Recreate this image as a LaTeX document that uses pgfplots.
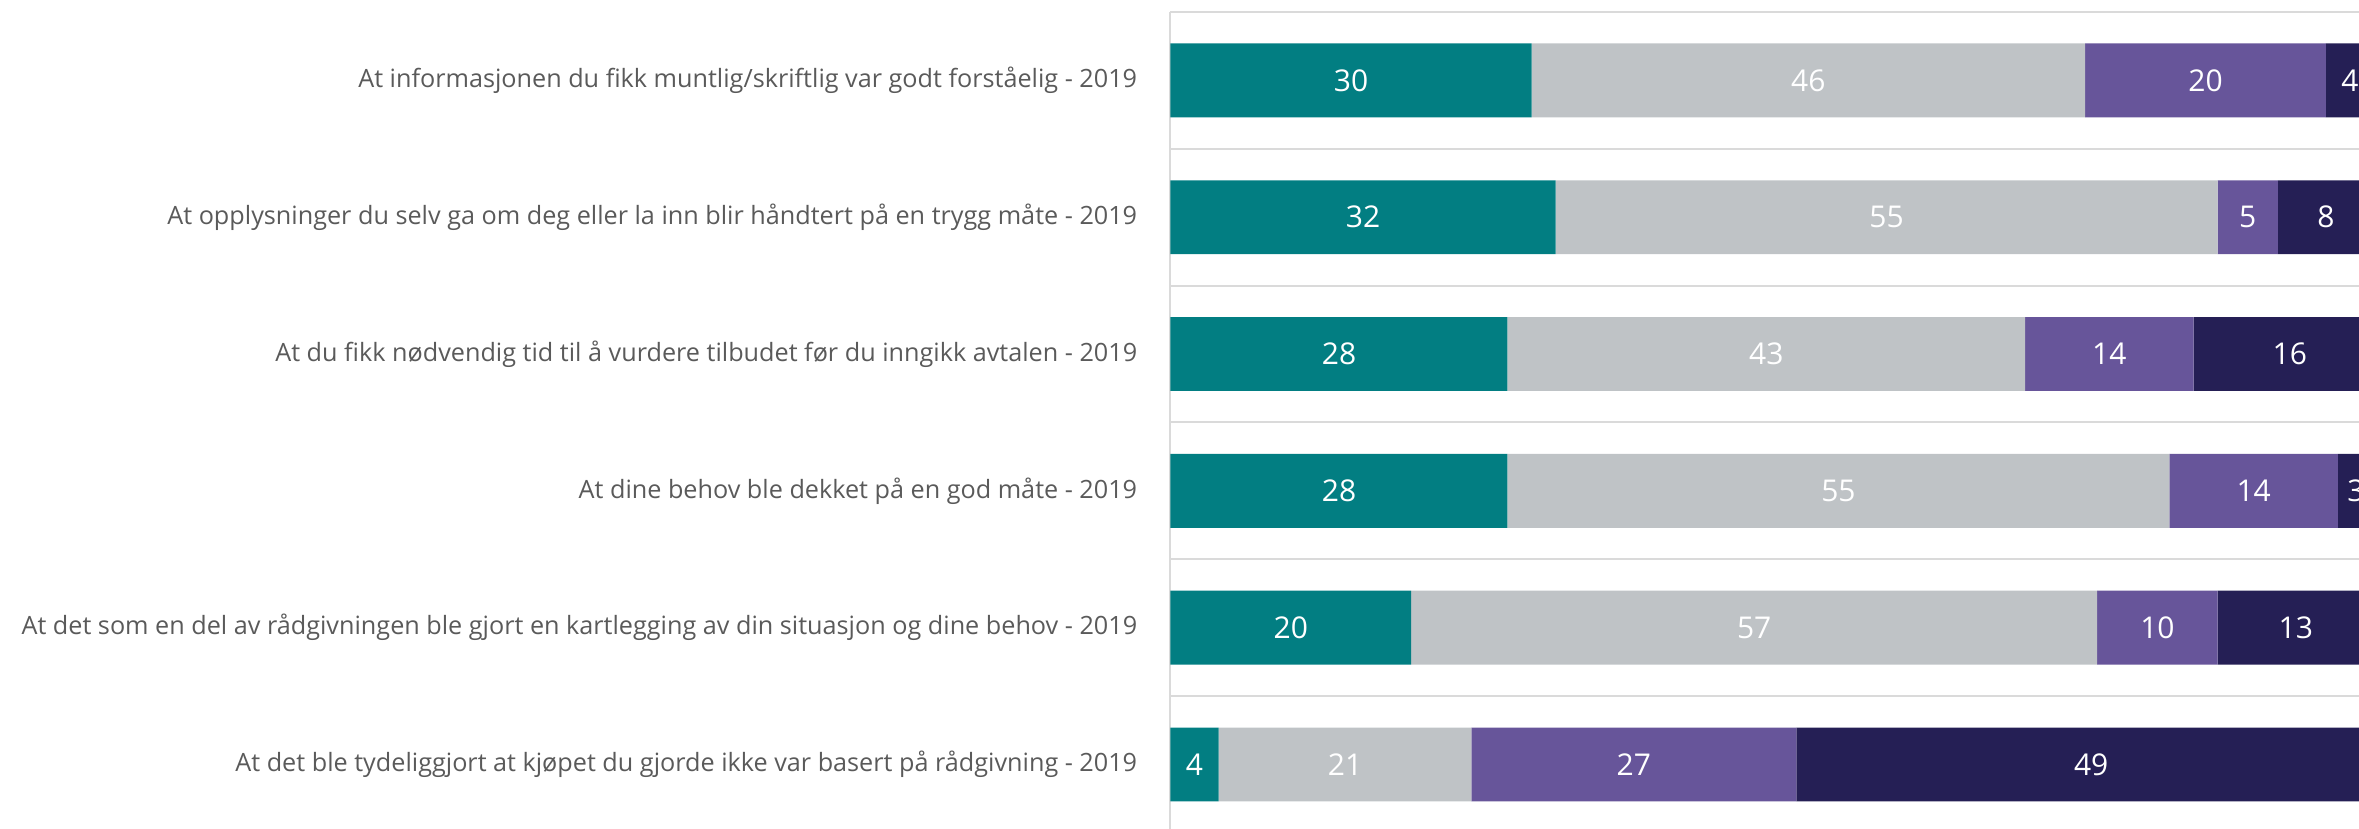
\documentclass[border=0pt]{standalone}
\usepackage{pgfplots}
\usepackage{pgfplotstable}
\pgfplotsset{compat=1.18}
\usepackage{fontspec}
\setmainfont{Open Sans}
\newfontfamily\labelfont{Open Sans}
\definecolor{cteal}{HTML}{027E82}
\definecolor{cgrey}{HTML}{BFC3C6}
\definecolor{cpurple}{HTML}{67559A}
\definecolor{cnavy}{HTML}{251F55}
\definecolor{gridgrey}{HTML}{DADADA}
\definecolor{labelgrey}{HTML}{5A5A5A}

\pgfplotstableread{
y a b c d
0 30 46 20 4
1 32 55 5 8
2 28 43 14 16
3 28 55 14 3
4 20 57 10 13
5 4 21 27 49
}\datatable

\pgfplotsset{
  common/.style={
    width=594.25pt, height=408.5pt, scale only axis,
    xmin=0, xmax=98.75, ymin=-0.5, ymax=5.472, y dir=reverse,
  },
  vallabel/.style={only marks, mark=none, nodes near coords, point meta=explicit symbolic,
    nodes near coords style={font=\fontsize{15}{16}\selectfont, text=white, anchor=center, inner sep=0pt}},
}

\begin{document}
\begin{tikzpicture}
\begin{axis}[common, xbar stacked, bar width=0.54,
  axis line style={draw=none},
  major tick length=0pt, tick style={draw=none},
  xtick=\empty,
  extra x ticks={0}, extra x tick labels={}, extra x tick style={grid=major},
  ytick={0,...,5},
  yticklabels={
    At informasjonen du fikk muntlig/skriftlig var godt forståelig - 2019,
    At opplysninger du selv ga om deg eller la inn blir håndtert på en trygg måte - 2019,
    At du fikk nødvendig tid til å vurdere tilbudet før du inngikk avtalen - 2019,
    At dine behov ble dekket på en god måte - 2019,
    At det som en del av rådgivningen ble gjort en kartlegging av din situasjon og dine behov - 2019,
    At det ble tydeliggjort at kjøpet du gjorde ikke var basert på rådgivning - 2019},
  extra y ticks={-0.5,0.5,1.5,2.5,3.5,4.5}, extra y tick labels={}, extra y tick style={grid=major},
  grid style={draw=gridgrey, line width=1pt},
  yticklabel style={font=\labelfont\fontsize{12.6}{14}\selectfont, text=labelgrey, inner sep=0pt, xshift=-16.5pt},
]
\addplot[fill=cteal, draw=none] table[x=a, y=y] {\datatable};
\addplot[fill=cgrey, draw=none] table[x=b, y=y] {\datatable};
\addplot[fill=cpurple, draw=none] table[x=c, y=y] {\datatable};
\addplot[fill=cnavy, draw=none] table[x=d, y=y] {\datatable};
\end{axis}
\begin{axis}[common, hide axis]
\addplot[vallabel] table[x expr=\thisrow{a}/2, y=y, meta=a] {\datatable};
\addplot[vallabel] table[x expr=\thisrow{a}+\thisrow{b}/2, y=y, meta=b] {\datatable};
\addplot[vallabel] table[x expr=\thisrow{a}+\thisrow{b}+\thisrow{c}/2, y=y, meta=c] {\datatable};
\addplot[vallabel] table[x expr=\thisrow{a}+\thisrow{b}+\thisrow{c}+\thisrow{d}/2, y=y, meta=d] {\datatable};
\end{axis}
\pgfresetboundingbox
\path[use as bounding box] (-585.25pt,0pt) rectangle (594.25pt,414.5pt);
\end{tikzpicture}
\end{document}
